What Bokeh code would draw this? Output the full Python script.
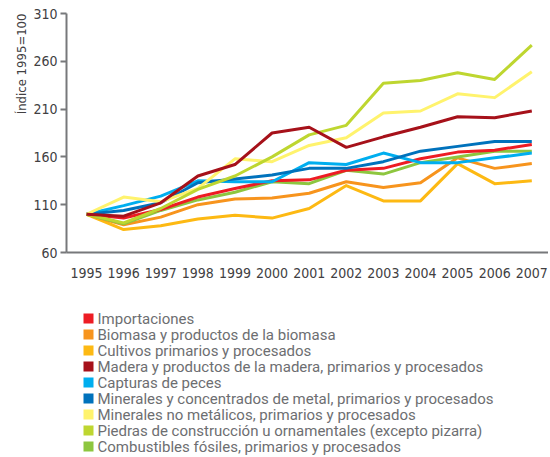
from bokeh.plotting import figure
from bokeh.layouts import column
from bokeh.models import Range1d, FixedTicker, ColumnDataSource, Title
from bokeh.core.properties import value
from bokeh.embed import file_html
from bokeh.resources import INLINE

years = list(range(1995, 2008))

importaciones = [100, 96, 105, 118, 127, 135, 136, 146, 148, 158, 165, 167, 173]
biomasa = [100, 89, 97, 110, 116, 117, 122, 134, 128, 133, 159, 148, 153]
cultivos = [100, 84, 88, 95, 99, 96, 106, 130, 114, 114, 153, 132, 135]
madera = [100, 98, 112, 140, 152, 185, 191, 170, 181, 191, 202, 201, 208]
capturas = [100, 109, 119, 135, 134, 134, 154, 152, 164, 154, 154, 159, 164]
min_metal = [100, 104, 112, 133, 137, 141, 148, 148, 155, 166, 171, 176, 176]
min_no_met = [100, 118, 113, 127, 158, 155, 172, 180, 206, 208, 226, 222, 249]
piedras = [100, 91, 106, 126, 140, 160, 183, 193, 237, 240, 248, 241, 277]
combustibles = [100, 90, 104, 115, 123, 134, 132, 146, 142, 154, 160, 166, 166]

labels = [
    "Importaciones",
    "Biomasa y productos de la biomasa",
    "Cultivos primarios y procesados",
    "Madera y productos de la madera, primarios y procesados",
    "Capturas de peces",
    "Minerales y concentrados de metal, primarios y procesados",
    "Minerales no metálicos, primarios y procesados",
    "Piedras de construcción u ornamentales (excepto pizarra)",
    "Combustibles fósiles, primarios y procesados",
]
series = [importaciones, biomasa, cultivos, madera, capturas,
          min_metal, min_no_met, piedras, combustibles]
colors = ["#ED1C24", "#F7941D", "#FDB913", "#A6111A", "#00AEEF",
          "#0072BC", "#FFF36D", "#BED630", "#8DC63F"]

y_ticks = [60, 110, 160, 210, 260, 310]
y_title = "Índice 1995=100"

COND = "DejaVu Sans Condensed"

p = figure(width=548, height=288, output_backend="svg", toolbar_location=None,
           x_range=Range1d(1994.46, 2007.45), y_range=Range1d(60, 310),
           min_border_left=66, min_border_top=13, min_border_right=0,
           min_border_bottom=36)
p.outline_line_color = None
p.xgrid.visible = False
p.ygrid.visible = False

draw_order = [2, 1, 8, 0, 4, 5, 6, 7, 3]
for i in draw_order:
    p.line(years, series[i], line_color=colors[i], line_width=3, line_join="round")

p.xaxis.ticker = FixedTicker(ticks=years)
p.yaxis.ticker = FixedTicker(ticks=y_ticks)
for ax in (p.xaxis[0], p.yaxis[0]):
    ax.axis_line_color = "#77787B"
    ax.axis_line_width = 2
    ax.major_label_text_font = COND
    ax.major_label_text_font_size = "14px"
    ax.major_label_text_color = "#414042"
    ax.minor_tick_line_color = None
p.xaxis.major_tick_line_color = None
p.xaxis.major_label_standoff = 9
p.yaxis.major_tick_line_color = "#77787B"
p.yaxis.major_tick_line_width = 2
p.yaxis.major_tick_out = 6
p.yaxis.major_tick_in = 0
p.yaxis.major_label_standoff = 3

ytitle = Title(text=y_title, align="right", text_font=COND, text_font_size="13px",
               text_font_style="normal", text_color="#414042", standoff=3)
p.add_layout(ytitle, "left")

# Legend panel: one row per series (row index on the y scale, pixels on x)
lf = figure(width=548, height=167, output_backend="svg", toolbar_location=None,
            x_range=Range1d(0, 482), y_range=Range1d(-8.5625, 1.875),
            x_axis_location=None, y_axis_location=None,
            min_border_left=66, min_border_right=0, min_border_top=0, min_border_bottom=0)
lf.outline_line_color = None
lf.xgrid.visible = False
lf.ygrid.visible = False

rows = [-k for k in range(len(labels))]
leg = ColumnDataSource(dict(row=rows, label=labels, color=colors,
                            sx=[22] * len(labels), tx=[31] * len(labels)))
lf.rect(x="sx", y="row", width=10, height=10, width_units="screen",
        height_units="screen", fill_color="color", line_color=None, source=leg)
lf.text(x="tx", y="row", text="label", source=leg, text_font=value("Roboto"),
        text_font_size="15px", text_color="#6D6E71", text_baseline="middle",
        text_align="left")

layout = column(p, lf, spacing=0)
open("out.html", "w").write(file_html(layout, INLINE))
